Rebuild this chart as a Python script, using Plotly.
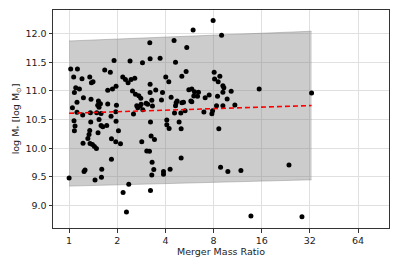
import plotly.graph_objects as go

# Merger mass ratio (x) and log stellar mass (y)
ratio = [1.91, 1.023, 1.127, 1.67, 1.81, 1.068, 1.204, 1.346, 1.379, 1.411,
         2.165, 2.25, 2.337, 2.44, 2.574, 1.10, 1.16, 1.079, 1.229, 1.371,
         1.744, 1.866, 1.966, 1.977, 1.12, 1.525, 1.57, 1.51, 1.539, 1.744,
         1.12, 1.216, 1.359, 1.489, 1.584, 1.829, 1.957, 1.049,
         3.195, 4.53, 5.44, 2.405, 3.21, 3.706, 2.876, 4.627, 4.02, 4.20,
         5.066, 5.39, 3.21, 2.49, 2.60, 2.727, 2.806, 3.21, 3.48, 3.837,
         4.343, 4.735, 4.67, 4.627, 3.78, 3.288, 3.03, 3.10, 3.32, 2.818,
         2.778, 2.649, 2.687, 5.066, 5.19, 5.605, 5.77, 2.526, 2.888, 4.56,
         4.994, 5.31,
         7.95, 5.96, 8.98, 8.07, 8.12, 8.76, 8.55, 9.15, 9.28, 10.31,
         9.15, 5.85, 6.08, 6.44, 6.02, 6.35, 5.85, 7.51, 7.09, 8.47,
         9.73, 8.35, 9.15, 10.87, 6.96, 7.89, 7.81, 15.43, 32.8,
         1.0, 1.073, 1.089, 1.079, 1.365, 1.539, 1.584, 1.623, 1.719, 1.966,
         2.035, 1.346, 1.332, 1.517, 1.222, 1.352, 1.399, 1.44, 1.482, 1.84,
         1.957, 2.095, 1.84, 1.258, 1.24, 1.60, 1.452, 1.593, 2.175, 2.36,
         2.283, 2.846, 3.256, 3.418, 3.059, 3.18, 3.303, 3.384, 3.288, 3.227,
         3.892, 3.892, 4.28, 5.016, 3.227, 4.082, 4.082, 4.22, 4.873, 5.016,
         8.63, 8.85, 9.83, 11.86, 13.7, 23.7, 28.56, 1.31]
logmass = [11.53, 11.38, 11.38, 11.365, 11.325, 11.24, 11.21, 11.24, 11.14, 11.16,
           11.24, 11.20, 11.14, 11.20, 11.22, 11.056, 11.033, 10.97, 10.88, 10.853,
           11.01, 11.033, 11.08, 10.748, 10.80, 10.823, 10.776, 10.748, 10.713, 10.77,
           10.626, 10.579, 10.62, 10.62, 10.608, 10.56, 10.636, 10.706,
           11.84, 11.88, 11.755, 11.52, 11.56, 11.57, 11.49, 11.50, 11.24, 11.16,
           11.255, 11.336, 11.115, 11.0, 10.94, 10.916, 10.87, 10.97, 11.016, 10.97,
           10.888, 10.823, 10.794, 10.741, 10.84, 10.836, 10.783, 10.766, 10.736, 10.766,
           10.736, 10.741, 10.706, 10.794, 10.80, 11.02, 10.823, 10.596, 10.671, 10.614,
           10.614, 10.654,
           12.227, 12.06, 11.97, 11.325, 11.208, 11.255, 11.16, 11.09, 11.056, 10.993,
           10.976, 11.033, 10.986, 10.976, 10.91, 10.906, 10.81, 10.928, 10.88, 10.906,
           10.858, 10.741, 10.741, 10.753, 10.631, 10.654, 10.601, 11.033, 10.963,
           9.483, 10.479, 10.386, 10.304, 10.456, 10.503, 10.398, 10.374, 10.398, 10.469,
           10.304, 10.311, 10.241, 10.269, 10.089, 10.084, 10.066, 10.031, 9.996, 10.164,
           10.112, 10.077, 9.809, 9.622, 9.594, 9.635, 9.448, 9.495, 9.227, 9.372,
           8.888, 10.112, 10.212, 10.154, 9.954, 9.949, 9.757, 9.629, 9.535, 9.262,
           9.594, 9.547, 9.635, 9.832, 10.456, 10.491, 10.409, 10.346, 10.456, 10.339,
           10.339, 9.67, 9.594, 9.612, 8.818, 9.71, 8.808, 10.17]

# Fit line and scatter band
fit_x = [1.0, 32.8]
fit_y = [10.61, 10.745]
band_upper = [11.87, 12.04]
band_lower = [9.34, 9.45]

x_ticks = [1, 2, 4, 8, 16, 32, 64]

font_family = "DejaVu Sans"
fsize = 9.5
txt_color = "#222222"

fig = go.Figure()
fig.add_trace(go.Scatter(x=fit_x, y=band_lower, mode="lines",
                         line=dict(color="rgba(120,120,120,0.5)", width=0.8),
                         showlegend=False, hoverinfo="skip"))
fig.add_trace(go.Scatter(x=fit_x, y=band_upper, mode="lines", fill="tonexty",
                         fillcolor="rgba(128,128,128,0.4)",
                         line=dict(color="rgba(120,120,120,0.5)", width=0.8),
                         showlegend=False, hoverinfo="skip"))
fig.add_trace(go.Scatter(x=ratio, y=logmass, mode="markers",
                         marker=dict(color="black", size=5),
                         showlegend=False))
fig.add_trace(go.Scatter(x=fit_x, y=fit_y, mode="lines",
                         line=dict(color="red", width=1.6, dash="5px,3px"),
                         showlegend=False))

axis_common = dict(showline=True, linecolor="#333333", linewidth=1, mirror=True,
                   ticks="outside", ticklen=3.5, tickcolor="#333333",
                   showgrid=True, gridcolor="#e0e0e0", gridwidth=1,
                   zeroline=False,
                   tickfont=dict(family=font_family, size=fsize, color=txt_color))

fig.update_xaxes(type="log", range=[-0.1007, 2.0], tickvals=x_ticks,
                 ticktext=[str(v) for v in x_ticks],
                 title=dict(text="Merger Mass Ratio", standoff=1,
                            font=dict(family=font_family, size=fsize, color=txt_color)),
                 **axis_common)
fig.update_yaxes(range=[8.61, 12.41], dtick=0.5, tick0=9.0, tickformat=".1f",
                 title=dict(text="log M<sub>*</sub> [log M<sub>⊙</sub>]", standoff=4,
                            font=dict(family=font_family, size=fsize, color=txt_color)),
                 **axis_common)

# page body has an 8px margin, so the figure is sized to fit the window
fig.update_layout(width=391, height=258,
                  margin=dict(l=45, r=10, t=2, b=38),
                  plot_bgcolor="white", paper_bgcolor="white",
                  font=dict(family=font_family))

fig.write_html("out.html")
